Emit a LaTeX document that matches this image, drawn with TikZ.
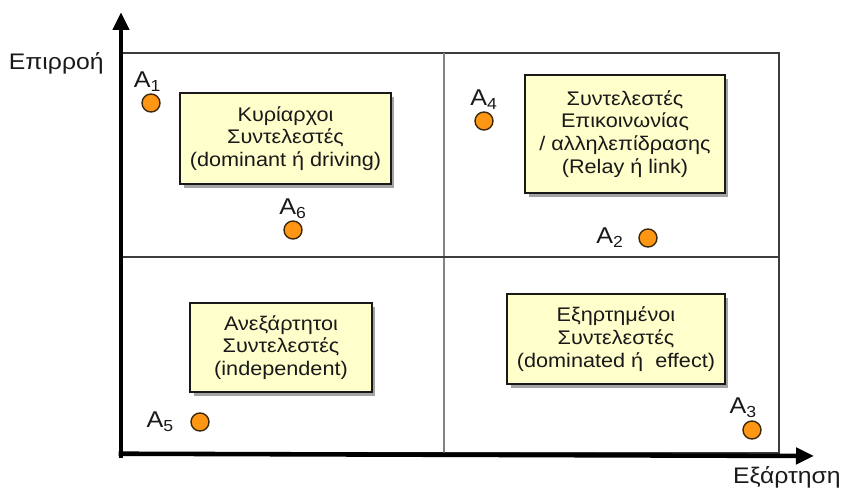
\documentclass[tikz,border=0pt]{standalone}
\usepackage{fontspec}
\setmainfont{Liberation Sans}[FakeStretch=1.1]
\usepackage{xcolor}
\usepackage{tikz}
\usetikzlibrary{arrows.meta, positioning, shadows}
\definecolor{mydark}{RGB}{25,25,25}
\definecolor{myframe}{RGB}{60,60,60}
\definecolor{mygrid}{RGB}{130,130,130}
\definecolor{myorange}{RGB}{255,150,20}
\definecolor{dotedge}{RGB}{60,40,10}
\definecolor{hdryellow}{RGB}{255,255,204}
\definecolor{myshadow}{RGB}{140,140,140}
\tikzset{
  catbox/.style={rectangle, draw=mydark, fill=hdryellow, align=center,
    font=\fontsize{11.2}{13}\selectfont, text=mydark, line width=1.1pt,
    drop shadow={shadow xshift=2pt, shadow yshift=-2pt, fill=myshadow, opacity=0.8}},
  dot/.style={circle, draw=dotedge, fill=myorange, minimum size=0.36cm,
    inner sep=0pt, line width=0.8pt},
  tag/.style={font=\fontsize{13}{14}\selectfont, text=mydark, inner sep=1pt},
  axis/.style={-{Triangle[length=0.36cm, width=0.32cm]}, line width=2.6pt, color=black},
  axislabel/.style={font=\fontsize{12.8}{14}\selectfont, text=mydark, inner sep=0pt},
  frame/.style={line width=0.7pt, color=myframe},
  midline/.style={line width=0.6pt, color=mygrid}
}

\begin{document}
\begin{tikzpicture}[x=0.02cm, y=-0.02cm, node distance=2pt and 4pt]
  \useasboundingbox (0,0) rectangle (843,490);

  % Quadrant frame
  \coordinate (tl) at (121,53);
  \coordinate (br) at (779,453);
  \coordinate (midtop) at (444,53);
  \coordinate (midbot) at (444,453);
  \coordinate (midleft) at (121,257);
  \coordinate (midright) at (779,257);
  \draw[frame] (tl) rectangle (br);
  \draw[midline] (midtop) -- (midbot);
  \draw[frame] (midleft) -- (midright);

  % Axes
  \coordinate (origin) at (121,458);
  \coordinate (ytip) at (121,12);
  \coordinate (xtip) at (814,456);
  \draw[axis] (origin) -- (ytip);
  \draw[axis] ([xshift=-1.3pt, yshift=1.3pt]origin |- xtip) -- (xtip);
  \node[axislabel, anchor=east] (ylab) at (104,63) {Επιρροή};
  \node[axislabel, anchor=east] (xlab) at (841,477) {Εξάρτηση};

  % Boxes
  \node[catbox, minimum width=4.22cm, minimum height=1.82cm] (dominant) at (285.5,138.5)
    {Κυρίαρχοι\\Συντελεστές\\(dominant ή driving)};
  \node[catbox, minimum width=4.0cm, minimum height=2.36cm] (relay) at (625,134)
    {Συντελεστές\\Επικοινωνίας\\/ αλληλεπίδρασης\\(Relay ή link)};
  \node[catbox, minimum width=3.64cm, minimum height=1.78cm] (indep) at (281,347.5)
    {Ανεξάρτητοι\\Συντελεστές\\(independent)};
  \node[catbox, minimum width=4.36cm, minimum height=1.8cm] (effect) at (616,339)
    {Εξηρτημένοι\\Συντελεστές\\(dominated ή~ effect)};

  % Factors
  \node[dot] (a1) at (151,103) {};
  \node[dot] (a2) at (648,238) {};
  \node[dot] (a3) at (752,430) {};
  \node[dot] (a4) at (484,121) {};
  \node[dot] (a5) at (200,422) {};
  \node[dot] (a6) at (293,230) {};
  \node[tag, above=0pt of a1, xshift=-2pt] (a1lab) {A\textsubscript{1}};
  \node[tag, left=7pt of a2] (a2lab) {A\textsubscript{2}};
  \node[tag, above left=2pt and -8pt of a3] (a3lab) {A\textsubscript{3}};
  \node[tag, above=0pt of a4] (a4lab) {A\textsubscript{4}};
  \node[tag, left=8pt of a5] (a5lab) {A\textsubscript{5}};
  \node[tag, above=0pt of a6] (a6lab) {A\textsubscript{6}};
\end{tikzpicture}
\end{document}
